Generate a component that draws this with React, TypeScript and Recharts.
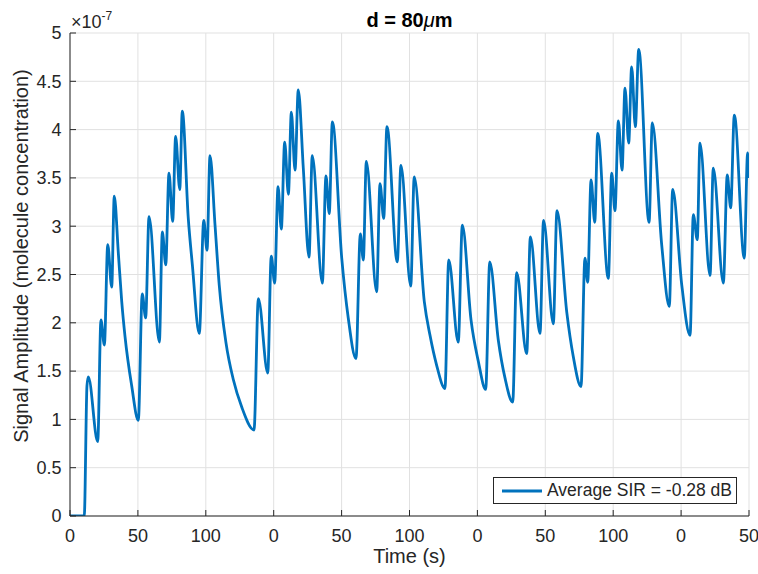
import React from 'react';
import { LineChart, Line, XAxis, YAxis, CartesianGrid, Legend } from 'recharts';

// Time axis position (0..500, axis labels repeat every 150 s)
const TIME = [
  0, 10.5, 12.5, 13.5, 20.4, 22.8, 25.3, 27.8, 30.7, 32.6,
  35.6, 38.1, 40.5, 45.4, 50.3, 53.2, 55.7, 58.2, 65.8, 68.0,
  70.5, 72.9, 75.6, 77.8, 80.8, 82.7, 87.1, 90.1, 95.2, 98.5,
  100.9, 103.1, 106.8, 109.9, 114.9, 120.3, 126.4, 135.5, 138.7, 145.6,
  148.2, 150.7, 153.2, 155.6, 158.1, 160.8, 163.0, 165.7, 168.1, 171.8,
  176.0, 178.4, 185.8, 188.5, 190.9, 193.2, 200.1, 204.9, 210.6, 213.8,
  216.0, 218.2, 225.8, 228.3, 231.0, 233.4, 241.0, 243.7, 250.9, 253.5,
  260.9, 265.1, 270.0, 276.1, 278.9, 285.9, 288.9, 295.3, 300.7, 306.1,
  309.1, 315.4, 320.3, 326.0, 328.9, 336.3, 339.0, 346.1, 348.7, 355.9,
  358.6, 365.8, 370.6, 376.3, 379.2, 381.2, 383.7, 386.4, 388.6, 396.4,
  398.9, 401.3, 403.8, 406.5, 408.7, 411.4, 413.6, 416.3, 418.8, 426.4,
  428.8, 435.7, 441.3, 443.8, 450.5, 456.6, 459.0, 461.9, 463.9, 471.3,
  473.7, 481.1, 484.0, 486.5, 489.2, 496.5, 499.0, 500,
];

// Signal amplitude in units of 1e-7
const SIGNAL = [
  0, 0, 1.35, 1.44, 0.77, 2.03, 1.77, 2.81, 2.37, 3.31,
  2.72, 2.22, 1.86, 1.35, 0.99, 2.30, 2.05, 3.10, 1.80, 2.94,
  2.60, 3.55, 3.05, 3.93, 3.38, 4.19, 3.08, 2.60, 1.89, 3.06,
  2.75, 3.73, 3.01, 2.39, 1.79, 1.41, 1.13, 0.89, 2.25, 1.48,
  2.69, 2.41, 3.41, 2.97, 3.87, 3.33, 4.18, 3.58, 4.41, 3.60,
  2.68, 3.73, 2.41, 3.52, 3.13, 4.08, 2.67, 2.05, 1.63, 2.92,
  2.65, 3.67, 2.32, 3.44, 3.08, 4.03, 2.63, 3.63, 2.38, 3.51,
  2.22, 1.87, 1.56, 1.32, 2.65, 1.80, 3.01, 2.03, 1.60, 1.31,
  2.63, 1.82, 1.43, 1.18, 2.52, 1.68, 2.89, 1.89, 3.06, 1.99,
  3.16, 2.11, 1.65, 1.34, 2.67, 2.42, 3.48, 3.04, 3.96, 2.46,
  3.55, 3.16, 4.09, 3.58, 4.43, 3.86, 4.65, 4.03, 4.83, 3.04,
  4.07, 2.81, 2.17, 3.38, 2.39, 1.87, 3.12, 2.86, 3.86, 2.49,
  3.60, 2.41, 3.53, 3.19, 4.15, 2.67, 3.76, 3.50,
];

const X_TICKS = [0, 50, 100, 150, 200, 250, 300, 350, 400, 450, 500];
const X_TICK_LABELS = ['0', '50', '100', '0', '50', '100', '0', '50', '100', '0', '50'];
const Y_TICKS = [0, 0.5, 1, 1.5, 2, 2.5, 3, 3.5, 4, 4.5, 5];
const Y_TICK_LABELS = ['0', '0.5', '1', '1.5', '2', '2.5', '3', '3.5', '4', '4.5', '5'];

const SERIES_NAME = 'Average SIR = -0.28 dB';
const X_LABEL = 'Time (s)';
const Y_LABEL = 'Signal Amplitude (molecule concentration)';

const data = TIME.map((t, i) => ({ t, v: SIGNAL[i] }));

const FONT = '"Liberation Sans", Arial, Helvetica, sans-serif';
const INK = '#262626';
const BLUE = '#0072BD';

const LegendBox = (props: any) => {
  const item = (props.payload && props.payload[0]) || { value: SERIES_NAME, color: BLUE };
  return (
    <div
      style={{
        boxSizing: 'border-box',
        width: 244,
        height: 27,
        border: `1px solid ${INK}`,
        background: '#fff',
        display: 'flex',
        alignItems: 'center',
        fontFamily: FONT,
        fontSize: 17.5,
        color: INK,
        whiteSpace: 'nowrap',
      }}
    >
      <svg width={52} height={25} style={{ flex: 'none' }}>
        <line x1={8} y1={13} x2={48} y2={13} stroke={item.color || BLUE} strokeWidth={2.8} />
      </svg>
      <span style={{ marginLeft: 1 }}>{item.value}</span>
    </div>
  );
};

export default function App() {
  return (
    <div style={{ position: 'absolute', left: 0, top: 0, width: 758, height: 574, background: '#fff' }}>
      <LineChart
        width={758}
        height={574}
        data={data}
        margin={{ top: 33, right: 9, left: 0, bottom: 0 }}
        style={{ fontFamily: FONT }}
      >
        <CartesianGrid stroke="#e1e1e1" strokeWidth={1} />
        <XAxis
          type="number"
          dataKey="t"
          domain={[0, 500]}
          ticks={X_TICKS}
          interval={0}
          allowDataOverflow
          height={58}
          tickSize={-6}
          tickMargin={19}
          tickFormatter={(v: number) => X_TICK_LABELS[X_TICKS.indexOf(v)]}
          axisLine={{ stroke: INK, strokeWidth: 1 }}
          tickLine={{ stroke: INK, strokeWidth: 1 }}
          tick={{ fill: INK, fontSize: 18, fontFamily: FONT }}
        />
        <YAxis
          type="number"
          domain={[0, 5]}
          ticks={Y_TICKS}
          interval={0}
          allowDataOverflow
          width={70}
          tickSize={-6}
          tickMargin={14.5}
          tickFormatter={(v: number) => Y_TICK_LABELS[Y_TICKS.indexOf(v)]}
          axisLine={{ stroke: INK, strokeWidth: 1 }}
          tickLine={{ stroke: INK, strokeWidth: 1 }}
          tick={{ fill: INK, fontSize: 18, fontFamily: FONT }}
        />
        <Legend
          layout="vertical"
          align="center"
          verticalAlign="middle"
          content={<LegendBox />}
          wrapperStyle={{ position: 'absolute', left: 493, top: 477, width: 'auto', height: 'auto' }}
        />
        <Line
          type="monotone"
          dataKey="v"
          name={SERIES_NAME}
          stroke={BLUE}
          strokeWidth={2.8}
          dot={false}
          activeDot={false}
          isAnimationActive={false}
        />
      </LineChart>

      {/* Title */}
      <div
        style={{
          position: 'absolute', left: 309.5, top: 9.5, width: 200, textAlign: 'center',
          fontFamily: FONT, fontSize: 20, lineHeight: '20px', fontWeight: 'bold', color: '#000', whiteSpace: 'nowrap',
        }}
      >
        d = 80<span style={{ fontStyle: 'italic', fontWeight: 'normal' }}>μ</span>m
      </div>

      {/* Exponent label */}
      <div
        style={{
          position: 'absolute', left: 71, top: 12.8, fontFamily: FONT, fontSize: 18, lineHeight: '18px',
          color: INK, whiteSpace: 'nowrap',
        }}
      >
        ×10<span style={{ fontSize: 12, position: 'relative', top: -8 }}>-7</span>
      </div>

      {/* X label */}
      <div
        style={{
          position: 'absolute', left: 309.5, top: 546.4, width: 200, textAlign: 'center',
          fontFamily: FONT, fontSize: 20, lineHeight: '20px', color: INK, whiteSpace: 'nowrap',
        }}
      >
        {X_LABEL}
      </div>

      {/* Y label */}
      <div
        style={{
          position: 'absolute', left: 21 - 250, top: 256 - 10, width: 500, height: 20, textAlign: 'center',
          fontFamily: FONT, fontSize: 20, lineHeight: '20px', color: INK, whiteSpace: 'nowrap',
          transform: 'rotate(-90deg)', transformOrigin: '50% 50%',
        }}
      >
        {Y_LABEL}
      </div>
    </div>
  );
}
